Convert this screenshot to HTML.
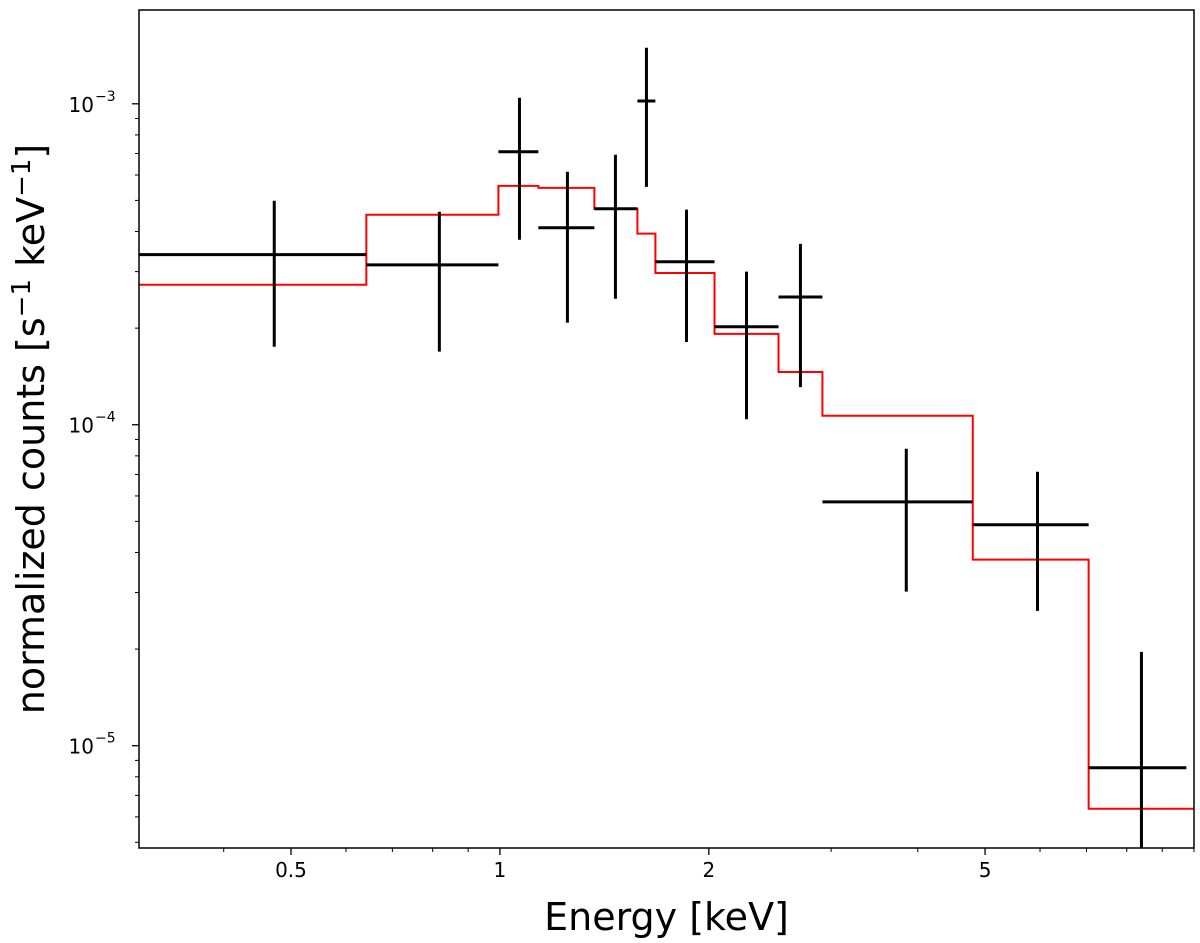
<!DOCTYPE html>
<html><head><meta charset="utf-8"><style>
body{margin:0;background:#fff}
svg{display:block;font-family:"DejaVu Sans","Liberation Sans",sans-serif}
</style></head><body>
<svg id="chart" width="1200" height="943"></svg>
<script>
const energyCenters=[0.473,0.818,1.067,1.251,1.467,1.626,1.857,2.266,2.71,3.85,5.95,8.40];
const energyLo=[0.302,0.642,0.995,1.136,1.368,1.578,1.675,2.038,2.52,2.915,4.80,7.05];
const energyHi=[0.642,0.995,1.136,1.368,1.578,1.675,2.038,2.52,2.915,4.80,7.05,9.75];
const counts=[3.39e-4,3.15e-4,7.09e-4,4.11e-4,4.71e-4,1.02e-3,3.22e-4,2.02e-4,2.50e-4,5.75e-5,4.88e-5,8.54e-6];
const countsHi=[4.99e-4,4.61e-4,1.044e-3,6.14e-4,6.94e-4,1.495e-3,4.68e-4,3.00e-4,3.66e-4,8.42e-5,7.14e-5,1.96e-5];
const countsLo=[1.75e-4,1.69e-4,3.77e-4,2.08e-4,2.47e-4,5.51e-4,1.81e-4,1.04e-4,1.31e-4,3.02e-5,2.63e-5,4.0e-6];
const modelEdges=[0.302,0.642,0.995,1.136,1.368,1.578,1.675,2.038,2.52,2.915,4.80,7.05,10.0];
const modelValues=[2.73e-4,4.51e-4,5.55e-4,5.47e-4,4.71e-4,3.94e-4,2.97e-4,1.92e-4,1.46e-4,1.067e-4,3.80e-5,6.36e-6];
const xTicks=[0.5,1,2,5];
const xTickLabels=["0.5","1","2","5"];
const yTicks=[1e-5,1e-4,1e-3];
const yTickExps=["−5","−4","−3"];

const L=139,R=1194,T=10,B=848;
const X0=Math.log10(0.302),X1=Math.log10(10.0);
const Y0=Math.log10(4.8e-6),Y1=Math.log10(1.96e-3);
const sx=v=>L+(Math.log10(v)-X0)/(X1-X0)*(R-L);
const sy=v=>B-(Math.log10(v)-Y0)/(Y1-Y0)*(B-T);
const svg=document.getElementById('chart');
const NS='http://www.w3.org/2000/svg';
function mk(tag,at,parent){const e=document.createElementNS(NS,tag);for(const k in at)e.setAttribute(k,at[k]);(parent||svg).appendChild(e);return e;}
const clip=mk('clipPath',{id:'pc'});mk('rect',{x:L,y:T,width:R-L,height:B-T},clip);

let d='';
modelValues.forEach((v,i)=>{const y=sy(v);d+=(i?'L':'M')+sx(modelEdges[i])+' '+y+'L'+sx(modelEdges[i+1])+' '+y;});
const model=mk('path',{d:d,fill:'none',stroke:'#ff0000','stroke-width':2,'clip-path':'url(#pc)'});



counts.forEach((v,i)=>{
  const g=mk('g',{stroke:'#000','stroke-width':3,'clip-path':'url(#pc)'});
  
  
  mk('line',{x1:sx(energyLo[i]),x2:sx(energyHi[i]),y1:sy(v),y2:sy(v)},g);
  const xc=sx(energyCenters[i]);
  mk('line',{x1:xc,x2:xc,y1:sy(countsHi[i]),y2:sy(countsLo[i])},g);
});

const fr=mk('rect',{x:L,y:T,width:R-L,height:B-T,fill:'none',stroke:'#000','stroke-width':1.5});



for(let dec=0.1;dec<=10;dec*=10){for(let m=1;m<10;m++){const v=dec*m;if(v<0.302||v>10.01)continue;
  const x=sx(v);const major=xTicks.some(t=>Math.abs(t-v)<1e-9);
  mk('line',{x1:x,x2:x,y1:B,y2:B+(major?7:4),stroke:'#000','stroke-width':major?1.3:1});}}
xTicks.forEach((v,i)=>{const t=mk('text',{x:sx(v),y:B+29,'text-anchor':'middle','font-size':20});t.textContent=xTickLabels[i];
  });
for(let e=-6;e<=-3;e++){for(let m=1;m<10;m++){const v=m*Math.pow(10,e);if(v<4.8e-6||v>1.96e-3)continue;
  const y=sy(v);mk('line',{x1:L,x2:L-(m===1?7:4),y1:y,y2:y,stroke:'#000','stroke-width':m===1?1.3:1});}}
yTicks.forEach((v,i)=>{const t=mk('text',{x:94,y:sy(v)+8,'text-anchor':'end','font-size':20});t.textContent='10';
  
  const s=mk('text',{x:95,y:sy(v)-3,'font-size':14});s.textContent=yTickExps[i];});

const xl=mk('text',{x:(L+R)/2,y:930,'text-anchor':'middle','font-size':38});xl.textContent='Energy [keV]';

const yl=mk('text',{x:0,y:0,'text-anchor':'middle','font-size':38,transform:'translate(44,429) rotate(-90)'});
yl.innerHTML='normalized counts [s<tspan dy="-14" font-size="26">−1</tspan><tspan dy="14"> keV</tspan><tspan dy="-14" font-size="26">−1</tspan><tspan dy="14">]</tspan>';

</script>
</body></html>
